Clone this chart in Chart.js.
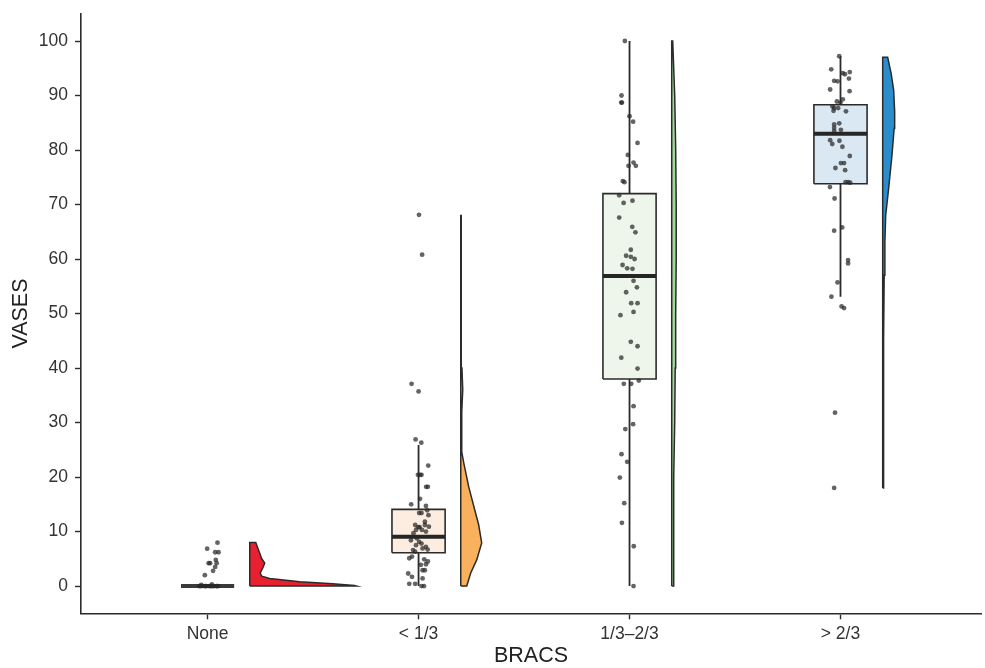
<!DOCTYPE html>
<html>
<head>
<meta charset="utf-8">
<script src="https://cdn.jsdelivr.net/npm/chart.js@4.4.1/dist/chart.umd.min.js"></script>
<style>
  html, body { margin: 0; padding: 0; background: #ffffff; }
  #wrap { width: 985px; height: 668px; }
</style>
</head>
<body>
<div id="wrap"><canvas id="c" width="985" height="668"></canvas></div>
<script>
// ---------------- DATA ----------------
const categories = ['None', '< 1/3', '1/3\u20132/3', '> 2/3'];
const yTicks = [0, 10, 20, 30, 40, 50, 60, 70, 80, 90, 100];

// box-plot statistics per category
const boxQ1     = [0, 6.1, 38.0, 73.8];
const boxMedian = [0, 9.05, 56.9, 83.0];
const boxQ3     = [0, 14.07, 72.0, 88.3];
const whiskerLo = [0, 0, 0, 53.1];
const whiskerHi = [0, 25.9, 100, 97.2];

// individual observations (values) and their horizontal jitter (category units)
const noneValues = [7.95, 6.85, 6.2, 6.2, 4.8, 4.2, 4.2, 4.2, 3.5, 2.8, 2.0, 0.3, 0.2, 0, 0, 0, 0, 0, 0, 0, 0, 0, 0, 0, 0, 0, 0];
const noneJitter = [0.047, -0.002, 0.036, 0.052, 0.039, 0.005, 0.012, 0.043, 0.036, 0.026, -0.013, 0.02, -0.03, -0.04, -0.028, -0.015, -0.005, 0.008, 0.018, 0.03, 0.041, 0.05, -0.035, -0.01, 0.013, 0.025, 0.045];

const lowValues = [68.1, 60.8, 37.1, 35.7, 26.9, 26.3, 22.1, 20.4, 20.4, 20.4, 18.2, 18.2, 16.0, 15.0, 14.7, 13.9, 13.4, 13.4, 13.0, 11.8, 10.8, 10.8, 11.2, 11.2, 10.9, 10.3, 10.3, 10.0, 9.7, 8.75, 8.4, 8.1, 7.8, 7.5, 7.2, 6.9, 6.7, 6.6, 6.3, 5.4, 5.1, 4.9, 4.5, 4.0, 3.9, 2.9, 2.9, 2.3, 1.7, 1.4, 0.4, 0.4, 0, 0];
const lowJitter = [0.002, 0.017, -0.033, 0, -0.014, 0.013, 0.046, -0.003, 0.007, 0.014, 0.044, 0.036, 0.007, -0.035, 0.035, 0.041, 0.003, 0.014, 0.047, 0.030, 0.005, -0.001, 0.030, -0.016, 0.049, -0.012, 0.016, 0.035, -0.024, -0.008, -0.036, 0.003, 0.014, -0.012, 0.035, 0.019, 0.043, -0.026, -0.016, -0.031, -0.044, 0.027, 0.044, 0.035, 0.011, 0.019, 0.030, -0.049, -0.031, 0.019, -0.044, -0.016, 0.014, 0.026];

const midValues = [100, 90.0, 88.7, 88.7, 86.2, 85.2, 81.3, 79.1, 77.1, 77.7, 77.1, 74.3, 74.1, 71.7, 70.3, 70.7, 67.6, 65.9, 64.9, 61.7, 60.6, 60.4, 60.0, 58.9, 58.3, 58.2, 56.0, 54.8, 53.9, 51.9, 51.9, 49.7, 50.3, 44.8, 44.0, 41.9, 39.9, 37.1, 37.1, 37.7, 33.0, 28.8, 29.7, 24.2, 22.8, 19.9, 15.2, 11.6, 7.3, 0];
const midJitter = [-0.022, -0.038, -0.039, -0.036, 0, 0.017, 0.038, -0.008, -0.005, 0.019, 0.030, -0.032, -0.024, -0.049, -0.028, 0.014, -0.049, 0.013, 0.028, 0.006, -0.016, 0.006, 0.024, -0.033, -0.011, 0.014, 0.019, 0.035, -0.016, 0.008, 0.038, -0.043, 0.019, 0.006, 0.038, -0.039, 0.038, -0.027, 0.008, 0.044, 0.019, -0.020, 0.017, -0.038, -0.011, -0.046, -0.025, -0.036, 0.020, 0.019];

const highValues = [97.2, 94.8, 94.1, 93.9, 94.3, 93.1, 92.7, 92.6, 91.1, 90.8, 89.3, 88.9, 88.7, 88.0, 87.7, 87.2, 87.7, 87.1, 84.7, 84.9, 84.1, 83.5, 83.7, 81.8, 81.1, 81.7, 80.6, 78.9, 77.6, 77.6, 76.7, 76.3, 74.1, 74.1, 74.0, 73.2, 71.1, 65.2, 65.8, 59.8, 59.2, 55.7, 53.1, 51.3, 51.0, 31.8, 18.0];
const highJitter = [-0.006, -0.044, 0.011, 0.021, 0.044, 0.040, -0.030, -0.014, -0.049, 0.043, 0.011, -0.017, 0, -0.038, -0.030, -0.033, -0.011, 0.026, -0.030, -0.006, -0.030, -0.030, 0.002, -0.049, -0.039, -0.005, 0.009, 0.044, 0.002, 0.017, -0.024, 0.022, 0.024, 0.036, 0.046, -0.050, -0.028, -0.030, 0.008, 0.036, 0.036, -0.014, -0.043, 0.005, 0.017, -0.026, -0.030];

// half-violin density outlines: value levels and relative density at each level
const noneViolinY = [0, 0.1, 0.4, 0.8, 1.4, 1.8, 2.4, 3.3, 4.2, 5.0, 6.0, 7.0, 8.0];
const noneViolinD = [107, 105, 83, 50, 20, 12, 10.5, 13, 15, 12, 10, 8, 6];
const lowViolinY  = [0, 2.4, 4.8, 7.9, 11.2, 14, 18.2, 22.6, 24.4, 28, 32, 36, 40, 45, 55, 68];
const lowViolinD  = [6, 10, 16, 21, 18, 14, 8, 3, 1.2, 0.8, 1.2, 2, 1.2, 0.6, 0.5, 0.5];
const midViolinY  = [0, 10, 20, 30, 40, 50, 60, 70, 80, 90, 95, 100];
const midViolinD  = [1.5, 1.8, 2.2, 3, 3.5, 4, 4.5, 4.5, 4, 3, 2, 1];
const highViolinY = [18, 30, 45, 57, 63, 68, 73, 79, 84, 87, 91, 94, 97];
const highViolinD = [0.6, 0.8, 1, 1.5, 2.2, 3, 6, 9.3, 11.5, 12, 11, 8.5, 5];

// ---------------- STYLE ----------------
const FONT = "'Liberation Sans', Arial, Helvetica, sans-serif";
const boxFill    = ['#f2f2f2', '#fdede0', '#eef5ea', '#d9e8f3'];
const violinFill = ['#e8202f', '#f9b15e', '#a3d89c', '#2b8dcb'];
const INK = '#2b2b2b';
const BOX_HALF = 0.126;
const VIOLIN_OFFSET = 0.2;
const DENSITY_SCALE = 1 / 211.5;

const groups = [
  {values: noneValues, jitter: noneJitter, vy: noneViolinY, vd: noneViolinD},
  {values: lowValues,  jitter: lowJitter,  vy: lowViolinY,  vd: lowViolinD},
  {values: midValues,  jitter: midJitter,  vy: midViolinY,  vd: midViolinD},
  {values: highValues, jitter: highJitter, vy: highViolinY, vd: highViolinD}
];

const datasets = [];
groups.forEach((g, i) => {
  // violin (closed outline)
  const base = i + VIOLIN_OFFSET;
  const outline = [];
  outline.push({x: base, y: g.vy[0]});
  g.vy.forEach((y, k) => outline.push({x: base + g.vd[k] * DENSITY_SCALE, y}));
  outline.push({x: base, y: g.vy[g.vy.length - 1]});
  outline.push({x: base, y: g.vy[0]});
  datasets.push({
    data: outline, showLine: true, fill: 'shape', tension: 0,
    backgroundColor: violinFill[i], borderColor: INK, borderWidth: 1.5,
    pointRadius: 0, order: 4
  });
  // whisker
  if (whiskerHi[i] > whiskerLo[i]) {
    datasets.push({
      data: [{x: i, y: whiskerLo[i]}, {x: i, y: whiskerHi[i]}],
      showLine: true, fill: false, borderColor: INK, borderWidth: 1.8,
      pointRadius: 0, order: 3
    });
  }
  // box
  if (boxQ3[i] > boxQ1[i]) {
    datasets.push({
      data: [{x: i - BOX_HALF, y: boxQ1[i]}, {x: i + BOX_HALF, y: boxQ1[i]},
             {x: i + BOX_HALF, y: boxQ3[i]}, {x: i - BOX_HALF, y: boxQ3[i]},
             {x: i - BOX_HALF, y: boxQ1[i]}],
      showLine: true, fill: 'shape', tension: 0,
      backgroundColor: boxFill[i], borderColor: INK, borderWidth: 1.6,
      pointRadius: 0, order: 2
    });
  }
  // median
  datasets.push({
    data: [{x: i - BOX_HALF, y: boxMedian[i]}, {x: i + BOX_HALF, y: boxMedian[i]}],
    showLine: true, fill: false, borderColor: i === 0 ? '#3a3a3a' : '#262626', borderWidth: 4,
    borderCapStyle: 'butt', pointRadius: 0, order: 1
  });
  // jittered points
  datasets.push({
    data: g.values.map((v, k) => ({x: i + g.jitter[k], y: v})),
    showLine: false, pointRadius: 2.4, pointBorderWidth: 0,
    pointBackgroundColor: 'rgba(40,40,40,0.72)', order: 0
  });
});

new Chart(document.getElementById('c'), {
  type: 'scatter',
  data: { datasets },
  options: {
    responsive: false,
    animation: false,
    events: [],
    layout: { padding: { top: 13.75, right: 2, left: 0, bottom: 0 } },
    plugins: { legend: { display: false }, tooltip: { enabled: false } },
    scales: {
      x: {
        type: 'linear', min: -0.6, max: 3.666,
        afterBuildTicks: s => { s.ticks = categories.map((c, i) => ({ value: i })); },
        afterFit: s => { s.height = 668 - 613.3; s.paddingLeft = 0; s.paddingRight = 0; },
        ticks: {
          callback: v => categories[v],
          font: { family: FONT, size: 17.5 }, color: '#333333',
          padding: 4, autoSkip: false, maxRotation: 0
        },
        grid: { display: true, drawOnChartArea: false, drawTicks: true, tickLength: 6, tickColor: INK, tickWidth: 1.4 },
        border: { display: true, color: INK, width: 1.6 },
        title: { display: true, text: 'BRACS', color: '#222222',
                 font: { family: FONT, size: 21.5, lineHeight: 1.1 }, padding: { top: 0, bottom: 0 } }
      },
      y: {
        type: 'linear', min: -5, max: 105,
        afterBuildTicks: s => { s.ticks = yTicks.map(v => ({ value: v })); },
        afterFit: s => { s.width = 81; s.paddingTop = 0; s.paddingBottom = 0; },
        ticks: { font: { family: FONT, size: 17.5 }, color: '#333333', padding: 7 },
        grid: { display: true, drawOnChartArea: false, drawTicks: true, tickLength: 6, tickColor: INK, tickWidth: 1.4 },
        border: { display: true, color: INK, width: 1.6 },
        title: { display: true, text: 'VASES', color: '#222222',
                 font: { family: FONT, size: 21.5, lineHeight: 1.2 }, padding: { top: 8, bottom: 0 } }
      }
    }
  }
});
</script>
</body>
</html>
